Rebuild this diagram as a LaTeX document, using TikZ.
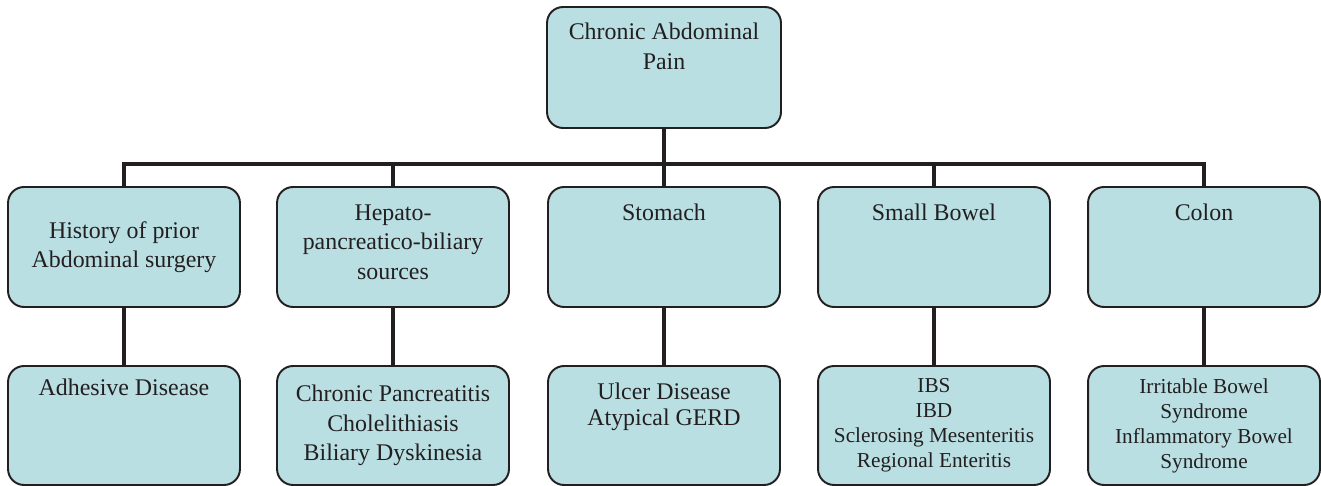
\documentclass[tikz,border=0pt]{standalone}
\usepackage{fontspec}
\setmainfont{LiberationSerif}[Extension=.ttf, UprightFont=*-Regular]
\usetikzlibrary{positioning}
\definecolor{boxfill}{HTML}{B9DFE3}
\definecolor{ink}{HTML}{231F20}
\tikzset{
  box/.style={draw=ink, fill=boxfill, line width=1.1pt, rounded corners=0.32cm,
    minimum width=4.64cm, minimum height=2.4cm, inner sep=0pt},
  lab/.style={text=ink, align=center, inner sep=0pt, font=\fontsize{13.6}{16.8}\selectfont},
  labs/.style={lab, font=\fontsize{12.1}{14.2}\selectfont},
  link/.style={draw=ink, line width=2.6pt},
}

\begin{document}
\begin{tikzpicture}[x=0.02cm, y=-0.02cm]
  \useasboundingbox (0,0) rectangle (1321,486);

  % top of the tree
  \node[box, minimum width=4.68cm, minimum height=2.42cm] (root) at (664,67.5) {};
  \node[lab, below=0.34cm of root.north] (rootlab) {Chronic Abdominal\\Pain};
  \coordinate (bus) at (664,164);

  % sources
  \node[box] (hist)  at (124,247) {};
  \node[box] (hpb)   at (393,247) {};
  \node[box] (stom)  at (664,247) {};
  \node[box] (sbow)  at (934,247) {};
  \node[box] (colon) at (1204,247) {};
  \node[lab] (histlab) at (hist) {History of prior\\Abdominal surgery};
  \node[lab, below=0.36cm of hpb.north]   (hpblab)   {Hepato-\\pancreatico-biliary\\sources};
  \node[lab, below=0.36cm of stom.north]  (stomlab)  {Stomach};
  \node[lab, below=0.36cm of sbow.north]  (sbowlab)  {Small Bowel};
  \node[lab, below=0.36cm of colon.north] (colonlab) {Colon};

  % diseases
  \node[box, minimum height=2.38cm] (adh) at (124,425.5) {};
  \node[box, minimum height=2.38cm] (pan) at (393,425.5) {};
  \node[box, minimum height=2.38cm] (ulc) at (664,425.5) {};
  \node[box, minimum height=2.38cm] (ibs) at (934,425.5) {};
  \node[box, minimum height=2.38cm] (ibd) at (1204,425.5) {};
  \node[lab, below=0.28cm of adh.north] (adhlab) {Adhesive Disease};
  \node[lab] (panlab) at (pan) {Chronic Pancreatitis\\Cholelithiasis\\Biliary Dyskinesia};
  \node[lab, font=\fontsize{13.6}{14.8}\selectfont, below=0.36cm of ulc.north] (ulclab)
    {Ulcer Disease\\Atypical GERD};
  \node[labs, below=0.27cm of ibs.north] (ibslab)
    {IBS\\IBD\\Sclerosing Mesenteritis\\Regional Enteritis};
  \node[labs, below=0.27cm of ibd.north] (ibdlab)
    {Irritable Bowel\\Syndrome\\Inflammatory Bowel\\Syndrome};

  % connectors
  \draw[link] (root.south) -- (bus);
  \foreach \c in {hist,hpb,stom,sbow,colon}
    \draw[link] (bus) -| (\c.north);
  \draw[link] (hist.south)  -- (adh.north);
  \draw[link] (hpb.south)   -- (pan.north);
  \draw[link] (stom.south)  -- (ulc.north);
  \draw[link] (sbow.south)  -- (ibs.north);
  \draw[link] (colon.south) -- (ibd.north);
\end{tikzpicture}
\end{document}
